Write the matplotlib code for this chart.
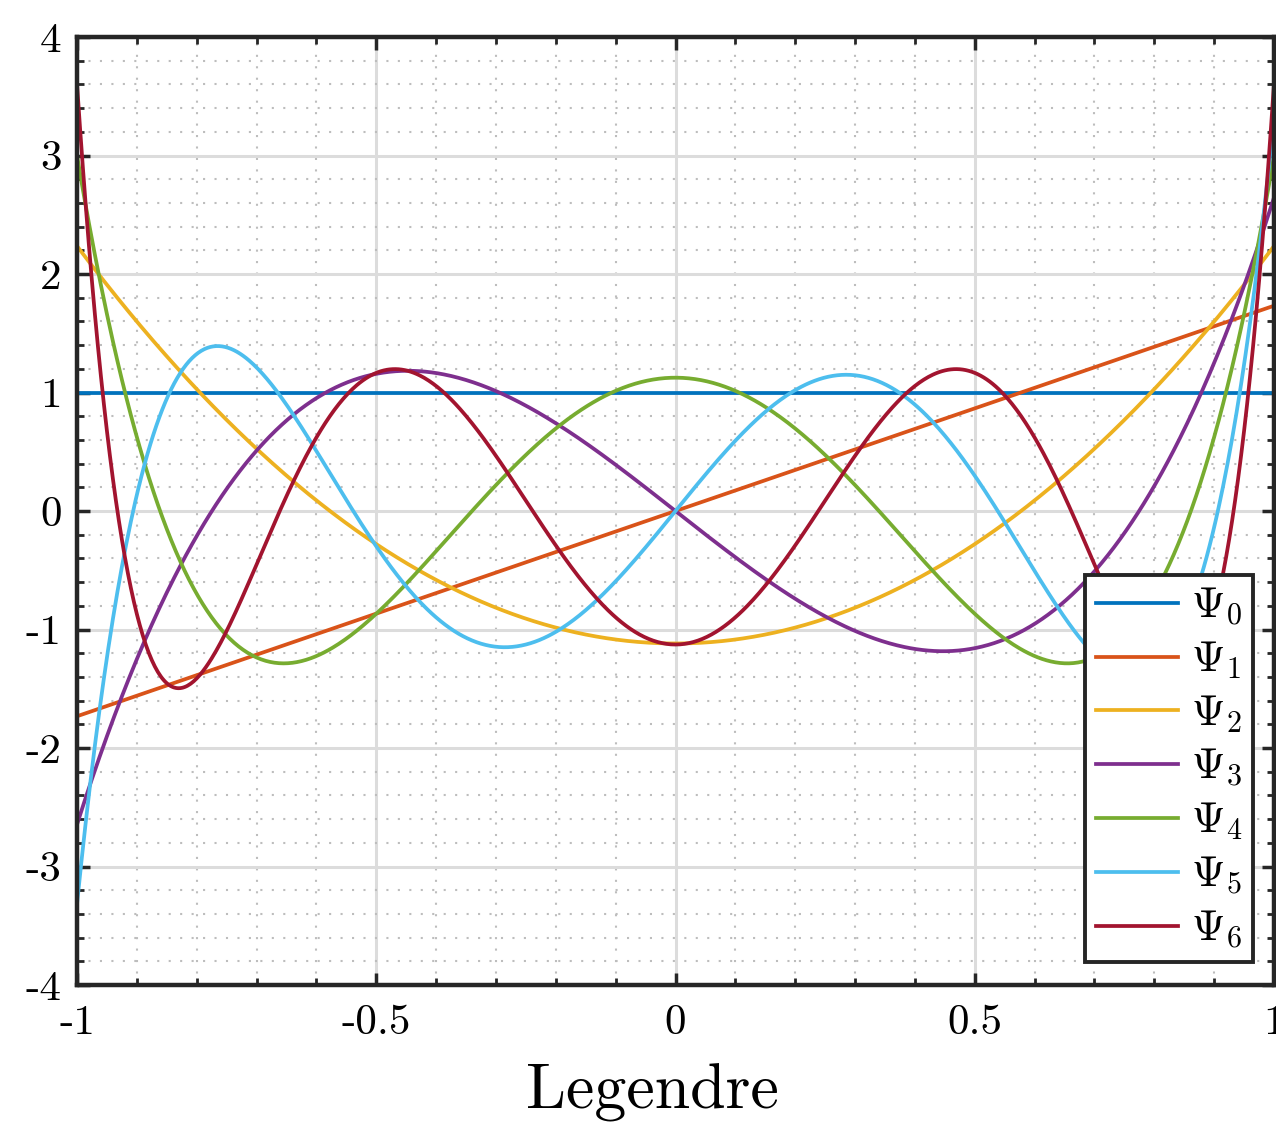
import numpy as np
import matplotlib.pyplot as plt

# Legendre polynomial coefficients (highest power first) and normalisation
# factors Psi_n(1) = sqrt(2n+1), as read at the right edge of the plot
p0 = [1.0]
p1 = [1.0, 0.0]
p2 = [1.5, 0.0, -0.5]
p3 = [2.5, 0.0, -1.5, 0.0]
p4 = [4.375, 0.0, -3.75, 0.0, 0.375]
p5 = [7.875, 0.0, -8.75, 0.0, 1.875, 0.0]
p6 = [14.4375, 0.0, -19.6875, 0.0, 6.5625, 0.0, -0.3125]
norms = [1.0, 1.7321, 2.2361, 2.6458, 3.0, 3.3166, 3.6056]
labels = [r'$\Psi_0$', r'$\Psi_1$', r'$\Psi_2$', r'$\Psi_3$',
          r'$\Psi_4$', r'$\Psi_5$', r'$\Psi_6$']
colors = ['#0072BD', '#D95319', '#EDB120', '#7E2F8E',
          '#77AC30', '#4DBEEE', '#A2142F']

xticks = [-1, -0.5, 0, 0.5, 1]
xtick_labels = ['-1', '-0.5', '0', '0.5', '1']
yticks = [-4, -3, -2, -1, 0, 1, 2, 3, 4]
ytick_labels = ['-4', '-3', '-2', '-1', '0', '1', '2', '3', '4']

plt.rcParams['font.family'] = 'cmr10'
plt.rcParams['mathtext.fontset'] = 'cm'
plt.rcParams['axes.unicode_minus'] = False

fig = plt.figure(figsize=(12.76, 11.25), dpi=100)
ax = fig.add_axes([77/1276, 140/1125, 1197/1276, 948/1125])

x = np.linspace(-1, 1, 801)
for coef, k, lab, col in zip([p0, p1, p2, p3, p4, p5, p6], norms, labels, colors):
    ax.plot(x, k*np.polyval(coef, x), color=col, lw=2.7, label=lab)

ax.set_xlim(-1, 1)
ax.set_ylim(-4, 4)
ax.set_xticks(xticks)
ax.set_xticklabels(xtick_labels)
ax.set_yticks(yticks)
ax.set_yticklabels(ytick_labels)
ax.set_xticks(np.arange(-1, 1.001, 0.1), minor=True)
ax.set_yticks(np.arange(-4, 4.001, 0.2), minor=True)

ax.set_axisbelow(True)
ax.grid(which='major', color='#dcdcdc', lw=2.2, ls='-')
ax.grid(which='minor', color='#bdbdbd', lw=1.5, ls=(0, (1, 4.5)))

ax.tick_params(which='both', direction='in', top=True, right=True,
               labelsize=31, pad=11, color='#262626')
ax.tick_params(axis='x', which='major', pad=14)
ax.tick_params(which='major', length=9, width=2.5)
ax.tick_params(which='minor', length=5, width=2.0)
for s in ax.spines.values():
    s.set_linewidth(3.2)
    s.set_color('#262626')

ax.set_xlabel('Legendre', fontsize=46, labelpad=12)
ax.xaxis.set_label_coords(0.481, -0.083)

leg = ax.legend(loc='lower right', bbox_to_anchor=(0.9825, 0.0243),
                borderaxespad=0, fontsize=31, fancybox=False,
                framealpha=1, edgecolor='#262626', handlelength=1.9,
                labelspacing=0.28, handletextpad=0.3, borderpad=0.25)
leg.get_frame().set_linewidth(2.8)

fig.savefig('out.png', dpi=100)
